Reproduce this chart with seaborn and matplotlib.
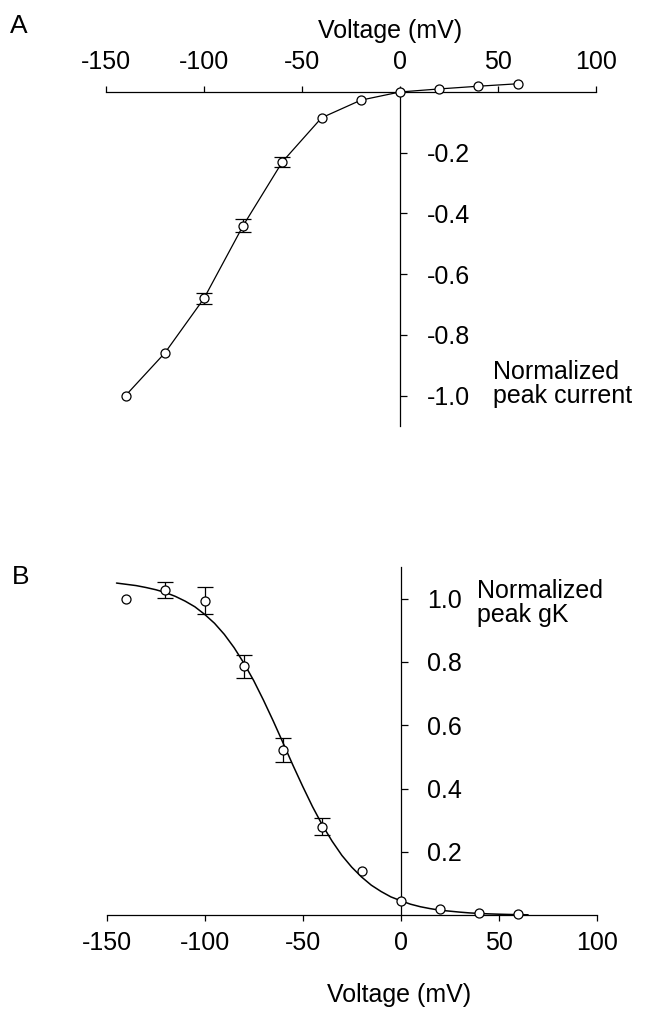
import numpy as np
import pandas as pd
import matplotlib
matplotlib.use("Agg")
import matplotlib.pyplot as plt
import seaborn as sns

# panel A: normalized peak current vs voltage
volt_a = [-140, -120, -100, -80, -60, -40, -20, 0, 20, 40, 60]
curr_a = [-1.0, -0.86, -0.68, -0.44, -0.23, -0.085, -0.027, 0.0, 0.01, 0.019, 0.027]
err_a = [0, 0, 0.019, 0.02, 0.017, 0, 0, 0, 0, 0, 0]

# panel B: normalized peak gK vs voltage
volt_b = [-140, -120, -100, -80, -60, -40, -20, 0, 20, 40, 60]
gk_b = [1.0, 1.028, 0.993, 0.786, 0.521, 0.279, 0.14, 0.044, 0.021, 0.007, 0.005]
err_b = [0, 0.025, 0.043, 0.036, 0.038, 0.027, 0, 0, 0, 0, 0]

# fitted curve
fit_v = [-145, -140, -135, -130, -125, -120, -115, -110, -105, -100, -95, -90,
         -85, -80, -75, -70, -65, -60, -55, -50, -45, -40, -35, -30, -25, -20,
         -15, -10, -5, 0, 5, 10, 15, 20, 25, 30, 35, 40, 45, 50, 55, 60, 65]
fit_g = [1.049, 1.045, 1.041, 1.035, 1.028, 1.019, 1.007, 0.992, 0.974, 0.950,
         0.922, 0.887, 0.845, 0.796, 0.741, 0.679, 0.613, 0.544, 0.474, 0.407,
         0.343, 0.285, 0.234, 0.189, 0.152, 0.121, 0.095, 0.075, 0.058, 0.046,
         0.035, 0.027, 0.021, 0.016, 0.013, 0.010, 0.0075, 0.0058, 0.0044,
         0.0034, 0.0026, 0.0020, 0.0015]

xticks = [-150, -100, -50, 0, 50, 100]
yticks_a = [-0.2, -0.4, -0.6, -0.8, -1.0]
yticks_b = [0.2, 0.4, 0.6, 0.8, 1.0]

sns.set_style("ticks")
plt.rcParams['font.family'] = ['Liberation Sans', 'DejaVu Sans']
plt.rcParams['axes.unicode_minus'] = False
plt.rcParams['text.color'] = 'black'
plt.rcParams['xtick.color'] = 'black'
plt.rcParams['ytick.color'] = 'black'
plt.rcParams['axes.edgecolor'] = 'black'

W, H = 645, 1013
fig = plt.figure(figsize=(W / 100, H / 100), dpi=100)

FS = 18
mk = dict(marker='o', markersize=6.5, markerfacecolor='white',
          markeredgecolor='black', markeredgewidth=0.9)


def draw_err(ax, x, y, e):
    # only draw bars for points that have them
    xs = [a for a, c in zip(x, e) if c > 0]
    ys = [b for b, c in zip(y, e) if c > 0]
    es = [c for c in e if c > 0]
    ax.errorbar(xs, ys, yerr=es, fmt='none', ecolor='black',
                elinewidth=0.9, capsize=5.5, capthick=0.9, zorder=3)


# ---------- panel A ----------
axA = fig.add_axes([106 / W, 1 - 425.9 / H, 490 / W, 349.1 / H])
dfa = pd.DataFrame({'V': volt_a, 'I': curr_a})
sns.lineplot(data=dfa, x='V', y='I', ax=axA, color='black', lw=0.9, zorder=2)
draw_err(axA, volt_a, curr_a, err_a)
axA.plot(volt_a, curr_a, ls='none', zorder=4, **mk)
axA.set_xlim(-150, 100)
axA.set_ylim(-1.1, 0.05)
axA.spines['left'].set_visible(False)
axA.spines['bottom'].set_visible(False)
axA.spines['top'].set_position(('data', 0))
axA.spines['right'].set_position(('data', 0))
axA.spines['right'].set_bounds(-1.1, 0)
for s in ('top', 'right'):
    axA.spines[s].set_linewidth(0.9)
axA.xaxis.tick_top()
axA.yaxis.tick_right()
axA.set_xticks(xticks)
axA.set_xticklabels([str(t) for t in xticks])
axA.set_yticks(yticks_a)
axA.set_yticklabels(['%.1f' % t for t in yticks_a])
axA.tick_params(axis='x', direction='out', length=4, width=0.9, pad=9, labelsize=FS)
axA.tick_params(axis='y', direction='out', length=5, width=0.9, pad=14, labelsize=FS)
axA.set_xlabel('')
axA.set_ylabel('')

# ---------- panel B ----------
axB = fig.add_axes([106.7 / W, 1 - 921.6 / H, 490 / W, 354.7 / H])
dff = pd.DataFrame({'V': fit_v, 'G': fit_g})
sns.lineplot(data=dff, x='V', y='G', ax=axB, color='black', lw=1.1, zorder=2)
draw_err(axB, volt_b, gk_b, err_b)
axB.plot(volt_b, gk_b, ls='none', zorder=4, **mk)
axB.set_xlim(-150, 100)
axB.set_ylim(-0.02, 1.1)
axB.spines['left'].set_visible(False)
axB.spines['top'].set_visible(False)
axB.spines['bottom'].set_position(('data', 0))
axB.spines['right'].set_position(('data', 0))
axB.spines['right'].set_bounds(0, 1.1)
for s in ('bottom', 'right'):
    axB.spines[s].set_linewidth(0.9)
axB.yaxis.tick_right()
axB.set_xticks(xticks)
axB.set_xticklabels([str(t) for t in xticks])
axB.set_yticks(yticks_b)
axB.set_yticklabels(['%.1f' % t for t in yticks_b])
axB.tick_params(axis='x', direction='out', length=4, width=0.9, pad=7, labelsize=FS)
axB.tick_params(axis='y', direction='out', length=5, width=0.9, pad=14, labelsize=FS)
axB.set_xlabel('')
axB.set_ylabel('')

# text labels
fig.text(390 / W, 1 - 38 / H, 'Voltage (mV)', ha='center', va='baseline', fontsize=FS)
fig.text(399 / W, 1 - 1001.5 / H, 'Voltage (mV)', ha='center', va='baseline', fontsize=FS)
fig.text(493 / W, 1 - 384 / H, 'Normalized\npeak current', ha='left', va='center',
         fontsize=FS, linespacing=1.0)
fig.text(477 / W, 1 - 603 / H, 'Normalized\npeak gK', ha='left', va='center',
         fontsize=FS, linespacing=1.0)
fig.text(10 / W, 1 - 33 / H, 'A', ha='left', va='baseline', fontsize=FS + 1)
fig.text(12 / W, 1 - 584 / H, 'B', ha='left', va='baseline', fontsize=FS + 1)

fig.savefig('out.png', dpi=100, facecolor='white')
